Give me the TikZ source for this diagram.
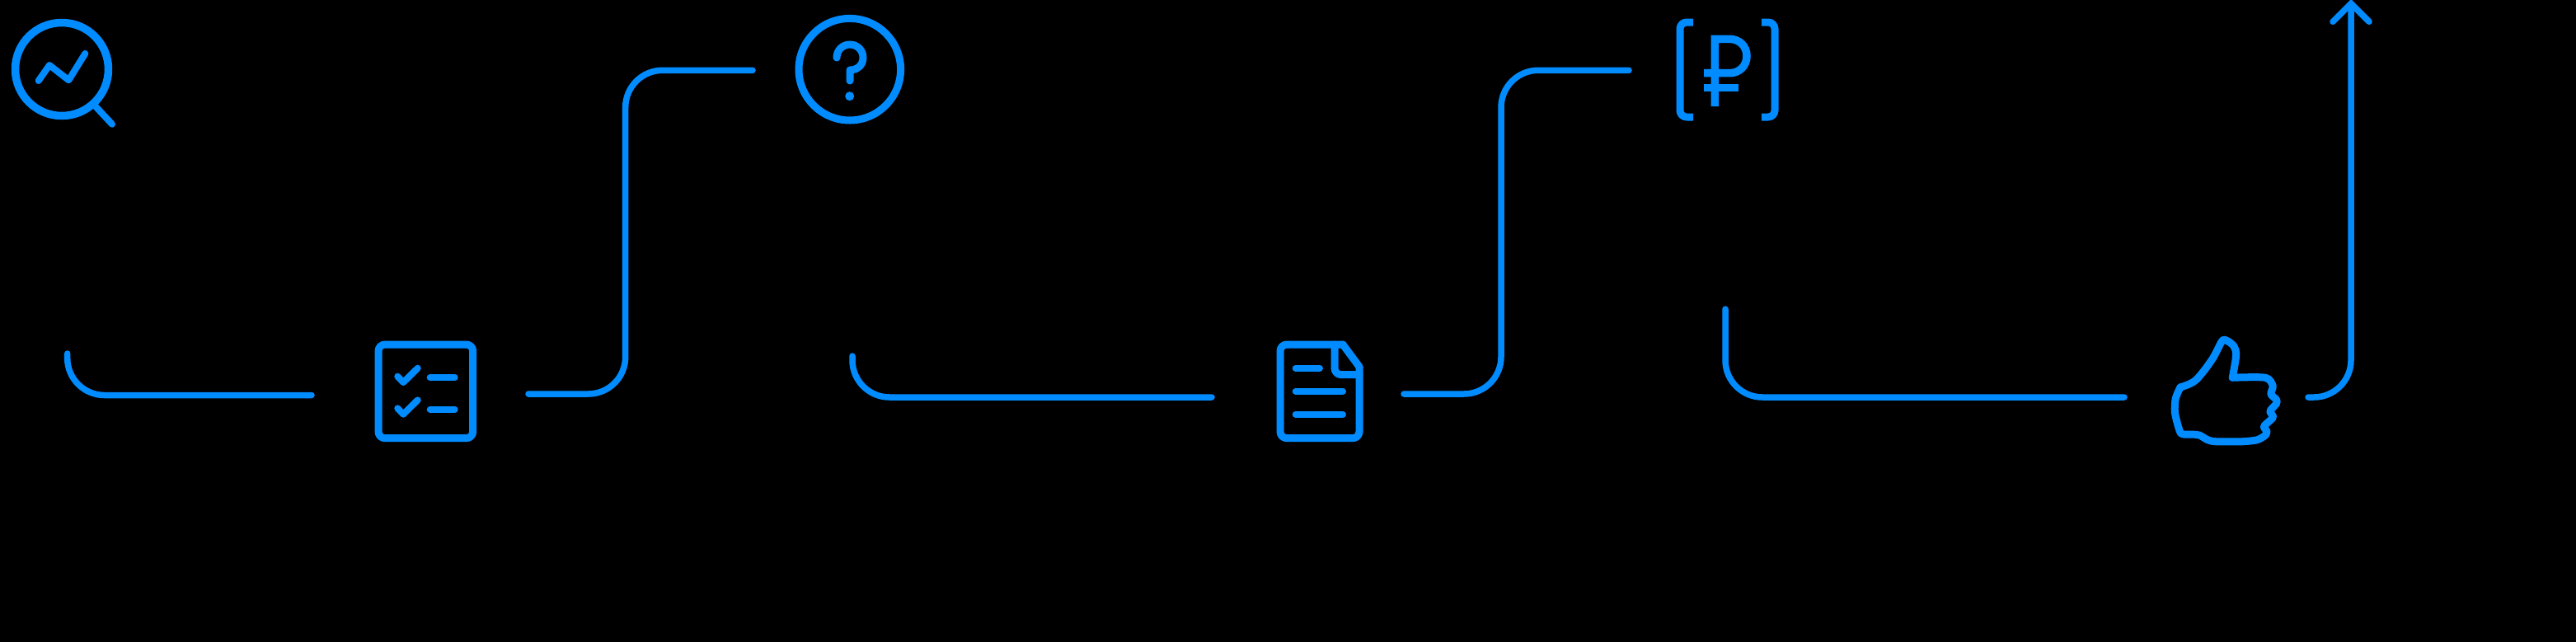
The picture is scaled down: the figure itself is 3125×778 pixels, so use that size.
\documentclass[tikz,border=0pt]{standalone}
\usetikzlibrary{arrows.meta}

\definecolor{flowblue}{RGB}{0,140,255}

\tikzset{
    icon/.style={draw=flowblue, line width=0.09cm, line cap=round, line join=round},
    thinicon/.style={icon, line width=0.08cm},
    link/.style={draw=flowblue, line width=0.075cm, line cap=round, rounded corners=0.45cm}
}

\begin{document}

\begin{tikzpicture}[x=0.01cm,y=-0.01cm]

\useasboundingbox (0,0) rectangle (3125,778);
\fill[black] (-10,-10) rectangle (3135,790);

% Loupe
\draw[icon,line width=0.095cm] (75,84) circle (56.5);
\draw[thinicon] (46.7,98) -- (60,79) -- (83.3,97.3) -- (103.3,65);
\draw[thinicon] (116.7,130) -- (136,150.7);

% Checklist
\draw[icon,rounded corners=0.08cm] (459,418) rectangle (573.7,531.7);

\foreach \y in {458,496.7}
{
    \draw[thinicon] (482.3,\y-1.3) -- (489.3,\y+6) -- (506.7,\y-11.3);
    \draw[thinicon] (521.7,\y) -- (551.7,\y);
}

% Question
\draw[icon] (1030.8,84.2) circle (61.8);
\draw[icon] (1015,70) .. controls (1015,61) and (1022,54) .. (1031,54)
    .. controls (1040,54) and (1047,61) .. (1047,70)
    .. controls (1047,79) and (1040,85) .. (1031,85) -- (1031,98);
\fill[flowblue] (1030.7,116.7) circle (5.5);

% Document
\draw[icon,rounded corners=0.08cm] (1629,418) -- (1553,418) -- (1553,531.7) -- (1649,531.7) -- (1649,445);
\draw[icon] (1629,418) -- (1649,445);
\draw[icon,rounded corners=0.08cm] (1619,418) -- (1619,454.7) -- (1649,454.7);

\foreach \x/\y in {
1601/446.7,
1629/474.7,
1629/502.7
}
{
    \draw[thinicon] (1571.7,\y) -- (\x,\y);
}

% Rouble
\draw[icon,line cap=butt,rounded corners=0.08cm] (2054,27) -- (2038,27) -- (2038,142) -- (2054,142);
\draw[icon,line cap=butt,rounded corners=0.08cm] (2137,27) -- (2153,27) -- (2153,142) -- (2137,142);
\draw[icon,line cap=butt,line join=miter,line width=0.095cm] (2080.3,129) -- (2080.3,47.3) -- (2098,47.3)
    .. controls (2110,47.3) and (2119,56) .. (2119,68)
    .. controls (2119,80) and (2110,88.7) .. (2098,88.7) -- (2067,88.7);
\draw[icon,line cap=butt] (2067,106.7) -- (2109,106.7);

% Thumb
\begin{scope}[shift={(2620,390)},x=0.00333cm,y=-0.00333cm]

\draw[icon] plot[smooth,tension=0.55] coordinates {
(75,240) (130,215) (190,140) (225,75) (240,68) (270,90) (278,125) (265,205)
};
\draw[icon] plot[smooth,tension=0.45] coordinates {
(265,205) (385,205) (412,235) (405,265) (425,285) (425,300) (402,327) (413,350) (380,382)
(390,400) (385,415) (355,432) (300,438) (205,438) (175,432) (145,415) (120,412) (80,410)
(68,385) (55,330) (58,280) (75,240)
};

\end{scope}

% Ends of the links
\coordinate (loupeout) at (81.7,429);
\coordinate (checkin) at (378,479.5);
\coordinate (checkout) at (641,478);
\coordinate (riserone) at (758.7,280);
\coordinate (askin) at (913,85.3);
\coordinate (askout) at (1034,432);
\coordinate (docin) at (1470,482);
\coordinate (docout) at (1703,478);
\coordinate (risertwo) at (1821,280);
\coordinate (roublein) at (1976,85.3);
\coordinate (roubleout) at (2093,375);
\coordinate (thumbin) at (2577,482);
\coordinate (thumbout) at (2800,482);
\coordinate (arrowend) at (2852,-1);

% Links
\draw[link] (loupeout) |- (checkin);
\draw[link] (checkout) -| (riserone) |- (askin);
\draw[link] (askout) |- (docin);
\draw[link] (docout) -| (risertwo) |- (roublein);
\draw[link] (roubleout) |- (thumbin);
\draw[link,-{Straight Barb[length=0.22cm,width=0.44cm,line cap=round]}] (thumbout) -| (arrowend);

\end{tikzpicture}

\end{document}
